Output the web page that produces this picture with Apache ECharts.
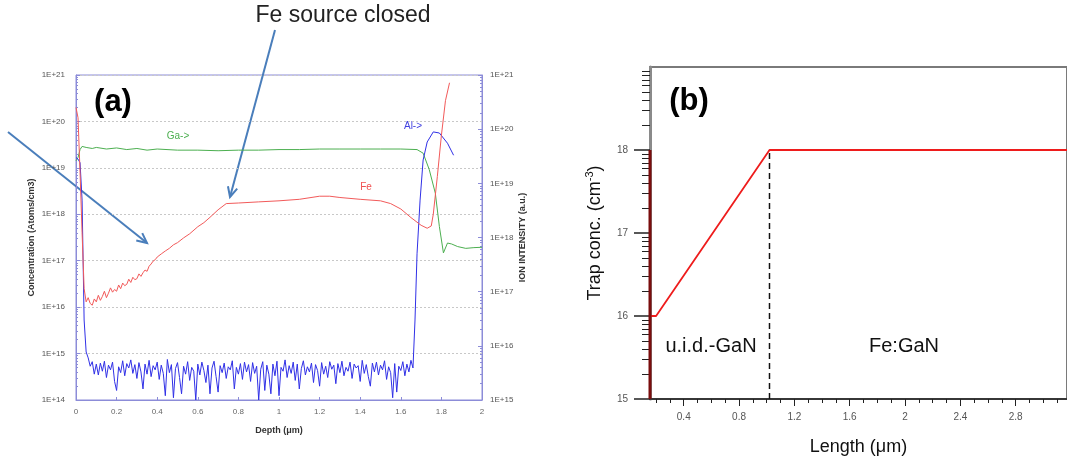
<!DOCTYPE html>
<html><head><meta charset="utf-8">
<script src="https://cdn.jsdelivr.net/npm/echarts@6/dist/echarts.min.js"></script>
<style>html,body{margin:0;padding:0;background:#fff}#c{width:1067px;height:461px}</style>
</head><body><div id="c"></div>
<script>
// ---------- Panel (a): SIMS depth profile ----------
const feDepth = [0,0.01,0.02,0.03,0.04,0.05,0.06,0.07,0.08,0.09,0.10,0.11,0.12,0.13,0.14,0.15,0.16,0.17,0.18,0.19,0.20,0.21,0.22,0.23,0.24,0.25,0.26,0.27,0.28,0.29,0.30,0.31,0.32,0.33,0.34,0.35,0.36,0.37,0.38,0.39,0.40,0.42,0.44,0.46,0.48,0.50,0.53,0.56,0.60,0.63,0.66,0.70,0.74,0.80,0.90,1.00,1.10,1.20,1.25,1.30,1.40,1.50,1.55,1.60,1.65,1.70,1.73,1.75,1.76,1.78,1.80,1.82,1.84];
const feConc = [2.0e20,1.2e20,8e18,4e17,2.5e16,1.3e16,1.6e16,1.2e16,1.1e16,1.5e16,1.3e16,1.8e16,1.4e16,1.7e16,2.2e16,1.6e16,2.0e16,2.6e16,2.1e16,2.4e16,2.2e16,3.0e16,2.5e16,3.3e16,2.9e16,3.1e16,4.0e16,3.4e16,4.4e16,3.9e16,4.1e16,5.2e16,4.6e16,5.5e16,6.3e16,5.9e16,7.6e16,8.5e16,9.8e16,1.05e17,1.2e17,1.4e17,1.62e17,1.85e17,2.2e17,2.45e17,3.1e17,3.8e17,5.4e17,6.6e17,8.6e17,1.25e18,1.7e18,1.75e18,1.85e18,1.95e18,2.1e18,2.45e18,2.45e18,2.3e18,2.1e18,1.95e18,1.7e18,1.3e18,8.5e17,5.8e17,5.0e17,5.6e17,1.0e18,6.5e18,5.0e19,2.8e20,6.8e20];

const gaDepth = [0,0.01,0.02,0.03,0.05,0.08,0.10,0.15,0.20,0.25,0.30,0.35,0.40,0.50,0.60,0.70,0.80,0.90,1.00,1.10,1.20,1.30,1.40,1.50,1.60,1.68,1.71,1.74,1.77,1.79,1.81,1.83,1.85,1.88,1.92,1.96,2.00];
const gaInt = [2.6e19,3.0e19,4.2e19,4.8e19,4.6e19,4.4e19,4.6e19,4.3e19,4.5e19,4.2e19,4.4e19,4.1e19,4.3e19,4.1e19,4.1e19,4.0e19,4.1e19,4.1e19,4.2e19,4.2e19,4.3e19,4.3e19,4.3e19,4.3e19,4.3e19,4.2e19,3.6e19,1.8e19,6.6e18,1.6e18,5.2e17,7.9e17,7.6e17,6.8e17,6.3e17,6.5e17,6.6e17];

const alHeadDepth = [0,0.01,0.02,0.03,0.035,0.04,0.05];
const alHeadInt = [3.0e19,2.8e19,2.4e19,4.9e18,3.8e17,3.0e16,7.7e15];
const alNoiseStart = 0.06, alNoiseStep = 0.01;
const alNoiseInt = [6.0e15,4.2e15,5.1e15,3.0e15,4.6e15,2.9e15,4.8e15,3.4e15,5.2e15,2.6e15,4.4e15,3.6e15,5.0e15,2.2e15,1.5e15,4.1e15,3.2e15,5.3e15,2.8e15,4.7e15,3.9e15,5.5e15,3.1e15,4.5e15,2.5e15,4.9e15,3.3e15,1.6e15,4.6e15,3.0e15,5.4e15,2.7e15,4.3e15,3.6e15,5.0e15,2.4e15,4.4e15,3.1e15,1.2e15,5.6e15,3.2e15,4.5e15,1.1e15,3.8e15,4.9e15,2.6e15,1.3e15,4.2e15,3.0e15,5.1e15,2.3e15,4.0e15,3.4e15,1.0e15,4.6e15,2.9e15,5.0e15,3.5e15,2.1e15,4.4e15,1.3e15,3.9e15,5.2e15,2.7e15,1.4e15,4.3e15,3.2e15,4.8e15,2.5e15,4.1e15,3.6e15,5.3e15,1.6e15,4.0e15,3.0e15,4.7e15,2.4e15,5.0e15,3.3e15,4.5e15,2.2e15,4.9e15,3.1e15,4.2e15,1.0e15,3.7e15,5.1e15,1.5e15,4.4e15,3.0e15,1.3e15,4.6e15,2.8e15,5.2e15,1.2e15,4.0e15,3.4e15,5.5e15,2.6e15,4.3e15,3.1e15,5.0e15,2.3e15,4.6e15,1.6e15,3.8e15,5.3e15,2.9e15,4.1e15,3.3e15,4.8e15,2.1e15,4.5e15,3.5e15,1.8e15,4.9e15,3.0e15,4.2e15,2.6e15,5.1e15,3.7e15,4.4e15,2.0e15,4.7e15,3.2e15,5.2e15,2.8e15,4.0e15,3.4e15,5.0e15,2.5e15,4.6e15,3.9e15,4.3e15,2.2e15,5.4e15,3.1e15,4.5e15,2.7e15,1.8e15,4.8e15,3.3e15,5.0e15,2.9e15,4.4e15,3.6e15,5.3e15,2.4e15,4.1e15,3.2e15,1.1e15,4.7e15,1.4e15,4.2e15,3.5e15,5.1e15,2.8e15,4.6e15,3.3e15,5.4e15,3.9e15];
const alTailDepth = [1.67,1.68,1.695,1.71,1.73,1.76,1.79,1.83,1.86];
const alTailInt = [3.0e16,5.0e17,4.9e18,2.7e19,5.8e19,8.9e19,8.5e19,5.5e19,3.3e19];

const leftDecades = [14,15,16,17,18,19,20,21];   // 1E+14 .. 1E+21
const rightDecades = [15,16,17,18,19,20,21];     // 1E+15 .. 1E+21

// ---------- Panel (b): simulated trap profile ----------
const trapLength = [0.15,0.2,1.02,3.2];
const trapLog = [16,16,18,18];
const edgeLength = [0.156,0.156];
const edgeLog = [15,18];
const boundaryLength = [1.02,1.02];
const boundaryLog = [15,18];
const bXTicks = [0.4,0.8,1.2,1.6,2,2.4,2.8];
const bXMinor = [0.2,0.3,0.5,0.6,0.7,0.9,1.0,1.1,1.3,1.4,1.5,1.7,1.8,1.9,2.1,2.2,2.3,2.5,2.6,2.7,2.9,3.0,3.1];
const bYTicks = [15,16,17,18];

// ---------- build ----------
const L = v => Math.log10(v);
const feData = feDepth.map((d,i)=>[d, L(feConc[i])]);
const gaData = gaDepth.map((d,i)=>[d, L(gaInt[i])]);
const alData = alHeadDepth.map((d,i)=>[d, L(alHeadInt[i])])
  .concat(alNoiseInt.map((v,i)=>[+(alNoiseStart+i*alNoiseStep).toFixed(3), L(v)]))
  .concat(alTailDepth.map((d,i)=>[d, L(alTailInt[i])]));
function logMinor(decs){const out=[];for(let i=0;i<decs.length-1;i++){for(let k=2;k<=9;k++)out.push(decs[i]+Math.log10(k));}return out;}

const FONT='"Liberation Sans", Arial, sans-serif';
const frameA='#8c8cd8';
const chart = echarts.init(document.getElementById('c'), null, {renderer:'canvas'});

function arrow(x1,y1,x2,y2,color){
  const a=Math.atan2(y2-y1,x2-x1), h=11, s=0.45;
  return [
    {type:'polyline', shape:{points:[[x1,y1],[x2,y2]]}, style:{stroke:color,lineWidth:2,fill:null}},
    {type:'polyline', shape:{points:[[x2-h*Math.cos(a-s),y2-h*Math.sin(a-s)],[x2,y2],[x2-h*Math.cos(a+s),y2-h*Math.sin(a+s)]]}, style:{stroke:color,lineWidth:2,fill:null}}
  ];
}
function txt(x,y,t,font,color){
  return {type:'text', x:x, y:y, style:{text:t, font:font, fill:color, align:'center', verticalAlign:'middle', textAlign:'center', textVerticalAlign:'middle'}};
}

const option = {
  animation:false,
  backgroundColor:'#fff',
  grid:[
    {left:76, top:75, width:406, height:325, show:true, borderColor:frameA, borderWidth:1, backgroundColor:'#fff'},
    {left:650, top:67, width:420, height:333, show:true, borderColor:'#7a7a7a', borderWidth:2, backgroundColor:'#fff'}
  ],
  xAxis:[
    {gridIndex:0, type:'value', min:0, max:2, interval:0.2, position:'bottom',
     axisLine:{lineStyle:{color:frameA}}, axisTick:{inside:true,length:3,lineStyle:{color:frameA}},
     axisLabel:{fontSize:8, color:'#666', margin:8, fontFamily:FONT},
     splitLine:{show:false},
     name:'Depth (μm)', nameLocation:'middle', nameGap:26, nameTextStyle:{fontSize:9, fontWeight:'bold', color:'#333', fontFamily:FONT}},
    {gridIndex:1, type:'value', min:0.156, max:3.171, position:'bottom',
     axisLine:{lineStyle:{color:'#222', width:1.5}},
     axisTick:{customValues:bXTicks, length:7, lineStyle:{color:'#222'}},
     axisLabel:{customValues:bXTicks, fontSize:10, color:'#555', margin:13, fontFamily:FONT},
     splitLine:{show:false},
     name:'Length (μm)', nameLocation:'middle', nameGap:39, nameTextStyle:{fontSize:18, color:'#111', fontFamily:FONT}},
    {gridIndex:1, type:'value', min:0.156, max:3.171, position:'bottom', offset:0,
     axisLine:{show:false}, axisTick:{customValues:bXMinor, length:4, lineStyle:{color:'#222'}},
     axisLabel:{show:false}, splitLine:{show:false}}
  ],
  yAxis:[
    {gridIndex:0, type:'value', min:14, max:21, interval:1, position:'left',
     axisLine:{show:true, lineStyle:{color:frameA}}, axisTick:{show:true, inside:true, length:4, lineStyle:{color:frameA}},
     axisLabel:{fontSize:8, color:'#555', margin:11, fontFamily:FONT, formatter:v=>'1E+'+v},
     splitLine:{show:true, lineStyle:{color:'#c8c8c8', type:[2,2]}},
     name:'Concentration (Atoms/cm3)', nameLocation:'middle', nameGap:40, nameRotate:90,
     nameTextStyle:{fontSize:9, fontWeight:'bold', color:'#333', fontFamily:FONT}},
    {gridIndex:0, type:'value', min:15, max:21, interval:1, position:'right',
     axisLine:{show:true, lineStyle:{color:frameA}}, axisTick:{show:true, inside:true, length:4, lineStyle:{color:frameA}},
     axisLabel:{fontSize:8, color:'#555', margin:8, fontFamily:FONT, formatter:v=>'1E+'+v},
     splitLine:{show:false},
     name:'ION INTENSITY (a.u.)', nameLocation:'middle', nameGap:36, nameRotate:90,
     nameTextStyle:{fontSize:9, fontWeight:'bold', color:'#333', fontFamily:FONT}},
    {gridIndex:0, type:'value', min:14, max:21, position:'left', offset:0,
     axisLine:{show:false}, axisTick:{show:true, inside:true, length:2, customValues:logMinor(leftDecades), lineStyle:{color:frameA}},
     axisLabel:{show:false}, splitLine:{show:false}},
    {gridIndex:0, type:'value', min:15, max:21, position:'right', offset:0,
     axisLine:{show:false}, axisTick:{show:true, inside:true, length:2, customValues:logMinor(rightDecades), lineStyle:{color:frameA}},
     axisLabel:{show:false}, splitLine:{show:false}},
    {gridIndex:1, type:'value', min:15, max:19, position:'left',
     axisLine:{show:true, lineStyle:{color:'#8a8a8a', width:3}},
     axisTick:{show:true, customValues:bYTicks, length:16, lineStyle:{color:'#222', width:1.5}},
     axisLabel:{customValues:bYTicks, fontSize:10, color:'#555', margin:22, fontFamily:FONT},
     splitLine:{show:false},
     name:'Trap conc. (cm{sup|-3})', nameLocation:'middle', nameGap:44, nameRotate:90,
     nameTextStyle:{fontSize:18, color:'#111', fontFamily:FONT, lineHeight:22,
       rich:{sup:{fontSize:11, verticalAlign:'top', fontFamily:FONT, color:'#111', lineHeight:22}}}},
    {gridIndex:1, type:'value', min:15, max:19, position:'left', offset:0,
     axisLine:{show:false}, axisTick:{show:true, customValues:logMinor([15,16,17,18,19]), length:8, lineStyle:{color:'#222'}},
     axisLabel:{show:false}, splitLine:{show:false}}
  ],
  series:[
    {name:'Ga', type:'line', xAxisIndex:0, yAxisIndex:1, data:gaData, showSymbol:false, lineStyle:{color:'#4caf50', width:1}, z:3},
    {name:'Al', type:'line', xAxisIndex:0, yAxisIndex:1, data:alData, showSymbol:false, lineStyle:{color:'#3030e6', width:1}, z:4},
    {name:'Fe', type:'line', xAxisIndex:0, yAxisIndex:0, data:feData, showSymbol:false, lineStyle:{color:'#f25a5a', width:1}, z:5},
    {name:'Trap', type:'line', xAxisIndex:1, yAxisIndex:4, data:trapLength.map((x,i)=>[x,trapLog[i]]), showSymbol:false, lineStyle:{color:'#ee1c1c', width:1.8}, z:5},
    {name:'Edge', type:'line', xAxisIndex:1, yAxisIndex:4, data:edgeLength.map((x,i)=>[x,edgeLog[i]]), showSymbol:false, clip:false, lineStyle:{color:'#7a0d0d', width:3}, z:6},
    {name:'Boundary', type:'line', xAxisIndex:1, yAxisIndex:4, data:boundaryLength.map((x,i)=>[x,boundaryLog[i]]), showSymbol:false, lineStyle:{color:'#111', width:1.5, type:[6,4]}, z:4}
  ],
  graphic:[
    txt(113,102,'(a)','bold 31px '+FONT,'#000'),
    txt(178,136,'Ga->','10px '+FONT,'#4caf50'),
    txt(366,187,'Fe','10px '+FONT,'#f05050'),
    txt(413,126,'Al->','10px '+FONT,'#4040e0'),
    txt(343,16,'Fe source closed','23px '+FONT,'#222'),
    ...arrow(8,132,147,243,'#4a7ebb'),
    ...arrow(275,30,230,197,'#4a7ebb'),
    txt(689,101,'(b)','bold 31px '+FONT,'#000'),
    txt(711,346,'u.i.d.-GaN','20px '+FONT,'#111'),
    txt(904,346,'Fe:GaN','20px '+FONT,'#111')
  ]
};
chart.setOption(option);
</script></body></html>
